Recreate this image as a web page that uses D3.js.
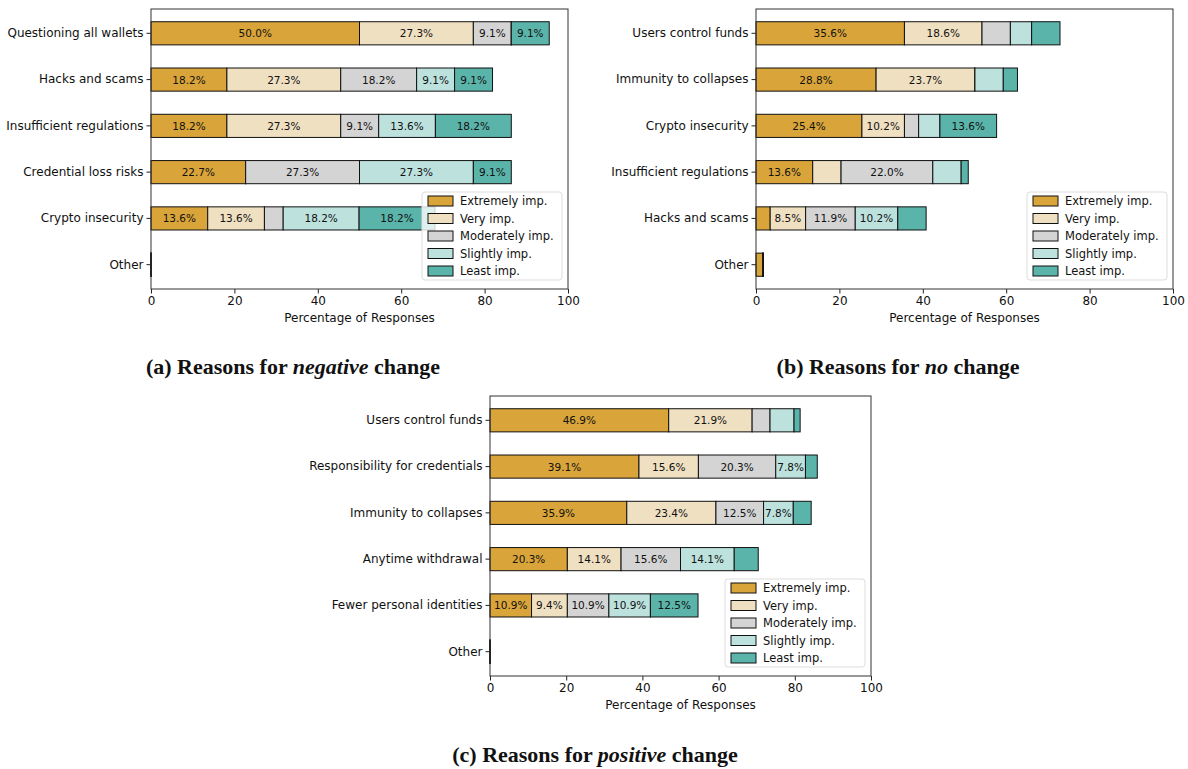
<html>
<head>
<script src="https://d3js.org/d3.v7.min.js"></script>
<style>
    body { margin: 0; background: #fff; }
    text { font-family: "DejaVu Sans", sans-serif; }
    .caption { font-family: "Liberation Serif", serif; font-weight: bold; font-size: 22px; }
</style>
</head>
<body>
<svg id="chart" width="1188" height="769"></svg>

<script>
// importance levels (stack order, left to right)
var levels = ["Extremely imp.", "Very imp.", "Moderately imp.", "Slightly imp.", "Least imp."];
var colors = ["#d9a43a", "#f0e0c2", "#d4d4d4", "#bde2de", "#5bb4aa"];

// (a) negative change
var negCategories = ["Questioning all wallets", "Hacks and scams", "Insufficient regulations",
                     "Credential loss risks", "Crypto insecurity", "Other"];
var negValues = [
    [50.0, 27.3, 9.1, 0, 9.1],
    [18.2, 27.3, 18.2, 9.1, 9.1],
    [18.2, 27.3, 9.1, 13.6, 18.2],
    [22.7, 0, 27.3, 27.3, 9.1],
    [13.6, 13.6, 4.5, 18.2, 18.2],
    [0, 0, 0, 0, 0]
];

// (b) no change
var noCategories = ["Users control funds", "Immunity to collapses", "Crypto insecurity",
                    "Insufficient regulations", "Hacks and scams", "Other"];
var noValues = [
    [35.6, 18.6, 6.8, 5.1, 6.8],
    [28.8, 23.7, 0, 6.8, 3.4],
    [25.4, 10.2, 3.4, 5.1, 13.6],
    [13.6, 6.8, 22.0, 6.8, 1.7],
    [3.4, 8.5, 11.9, 10.2, 6.8],
    [1.7, 0, 0, 0, 0]
];

// (c) positive change
var posCategories = ["Users control funds", "Responsibility for credentials", "Immunity to collapses",
                     "Anytime withdrawal", "Fewer personal identities", "Other"];
var posValues = [
    [46.9, 21.9, 4.7, 6.3, 1.6],
    [39.1, 15.6, 20.3, 7.8, 3.1],
    [35.9, 23.4, 12.5, 7.8, 4.7],
    [20.3, 14.1, 15.6, 14.1, 6.3],
    [10.9, 9.4, 10.9, 10.9, 12.5],
    [0, 0, 0, 0, 0]
];

var xTicks = [0, 20, 40, 60, 80, 100];

var svg = d3.select("#chart");

var drawPanel = function(cats, vals, box, caption)
{
    var g = svg.append("g");

    var xScale = d3.scaleLinear()
        .domain([0, 100])
        .range([box.left, box.right]);

    var yScale = d3.scaleBand()
        .domain(cats)
        .range([box.top, box.bottom])
        .paddingInner(0.5)
        .paddingOuter(0.275);

    // stacked segments
    var rows = cats.map(function(c, i) {
        var x = 0;
        return vals[i].map(function(v, k) {
            var seg = {cat: c, k: k, x0: x, v: v};
            x += v;
            return seg;
        });
    });

    var rowG = g.selectAll(".row")
        .data(rows)
        .enter()
        .append("g");

    rowG.selectAll("rect")
        .data(function(d) { return d; })
        .enter()
        .append("rect")
        .attr("x", function(d) { return xScale(d.x0); })
        .attr("y", function(d) { return yScale(d.cat); })
        .attr("width", function(d) { return Math.max(0.01, xScale(d.x0 + d.v) - xScale(d.x0)); })
        .attr("height", yScale.bandwidth())
        .attr("fill", function(d) { return colors[d.k]; })
        .attr("stroke", "#111")
        .attr("stroke-width", 1);

    rowG.selectAll("text")
        .data(function(d) { return d.filter(function(s) { return s.v >= 7; }); })
        .enter()
        .append("text")
        .attr("x", function(d) { return xScale(d.x0 + d.v / 2); })
        .attr("y", function(d) { return yScale(d.cat) + yScale.bandwidth() / 2; })
        .attr("text-anchor", "middle")
        .attr("dominant-baseline", "central")
        .style("font-size", "10.5px")
        .attr("fill", "#111")
        .text(function(d) { return d.v.toFixed(1) + "%"; });

    // axes
    var xAxis = d3.axisBottom(xScale).tickValues(xTicks).tickSize(4.5).tickPadding(3);
    var gx = g.append("g")
        .attr("transform", "translate(0," + box.bottom + ")")
        .call(xAxis);

    var yAxis = d3.axisLeft(yScale).tickSize(4.5).tickPadding(3);
    var gy = g.append("g")
        .attr("transform", "translate(" + box.left + ",0)")
        .call(yAxis);

    [gx, gy].forEach(function(a) {
        a.select(".domain").remove();
        a.selectAll("line").attr("stroke", "#222");
        a.selectAll("text")
            .style("font-size", "12px")
            .style("font-family", "DejaVu Sans, sans-serif")
            .attr("fill", "#111");
    });

    // frame
    g.append("rect")
        .attr("x", box.left)
        .attr("y", box.top)
        .attr("width", box.right - box.left)
        .attr("height", box.bottom - box.top)
        .attr("fill", "none")
        .attr("stroke", "#333")
        .attr("stroke-width", 1);

    g.append("text")
        .attr("x", (box.left + box.right) / 2)
        .attr("y", box.bottom + 33)
        .attr("text-anchor", "middle")
        .style("font-size", "12px")
        .attr("fill", "#111")
        .text("Percentage of Responses");

    // legend
    var lx = box.right - 146;
    var ly = box.bottom - 97;
    var leg = g.append("g").attr("transform", "translate(" + lx + "," + ly + ")");
    leg.append("rect")
        .attr("width", 140)
        .attr("height", 88)
        .attr("rx", 3)
        .attr("fill", "#fff")
        .attr("fill-opacity", 0.8)
        .attr("stroke", "#ddd");
    var item = leg.selectAll(".item")
        .data(levels)
        .enter()
        .append("g")
        .attr("transform", function(d, i) { return "translate(6," + (9 + i * 17.5) + ")"; });
    item.append("rect")
        .attr("y", -5)
        .attr("width", 25)
        .attr("height", 10)
        .attr("fill", function(d, i) { return colors[i]; })
        .attr("stroke", "#111");
    item.append("text")
        .attr("x", 32)
        .attr("dominant-baseline", "central")
        .style("font-size", "11.5px")
        .attr("fill", "#111")
        .text(function(d) { return d; });

    // caption
    var cap = svg.append("text")
        .attr("class", "caption")
        .attr("x", caption.x)
        .attr("y", caption.y)
        .attr("text-anchor", "middle")
        .attr("fill", "#111");
    cap.append("tspan").text(caption.pre);
    cap.append("tspan").style("font-style", "italic").text(caption.em);
    cap.append("tspan").text(caption.post);
}

drawPanel(negCategories, negValues,
    {left: 151, right: 568, top: 9, bottom: 289},
    {x: 293, y: 374, pre: "(a) Reasons for ", em: "negative", post: " change"});

drawPanel(noCategories, noValues,
    {left: 756, right: 1173, top: 9, bottom: 289},
    {x: 898, y: 374, pre: "(b) Reasons for ", em: "no", post: " change"});

drawPanel(posCategories, posValues,
    {left: 490, right: 871, top: 396, bottom: 676},
    {x: 595, y: 762, pre: "(c) Reasons for ", em: "positive", post: " change"});
</script>
</body>
</html>
